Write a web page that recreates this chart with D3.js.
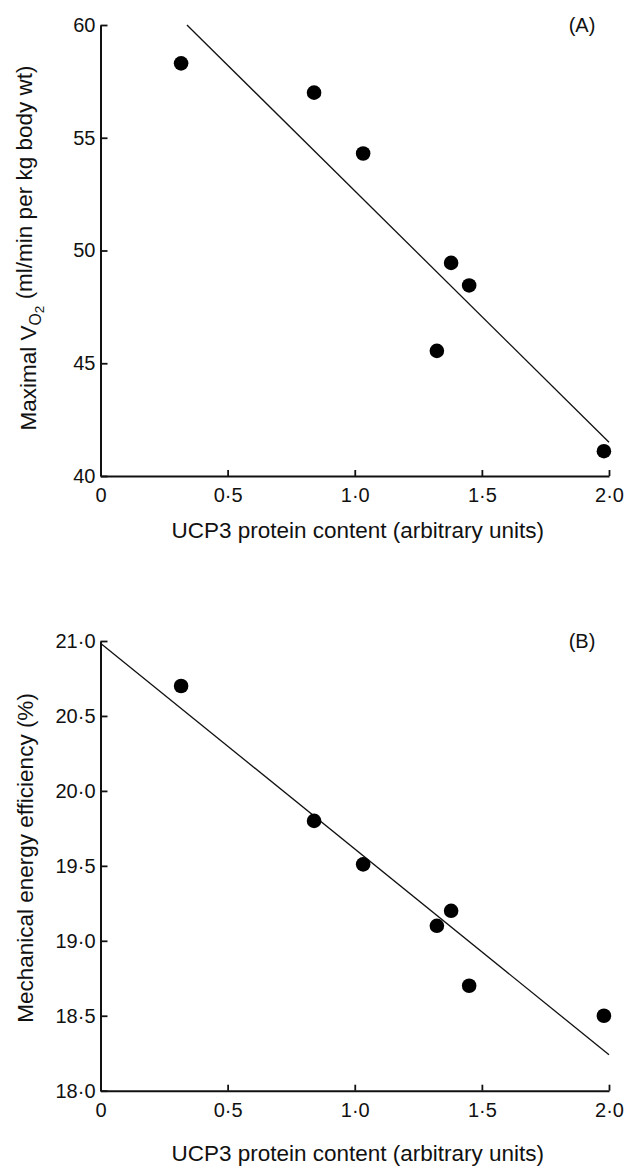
<!DOCTYPE html>
<html>
<head>
<meta charset="utf-8">
<script src="https://cdn.jsdelivr.net/npm/d3@7"></script>
<style>
  body { margin: 0; background: #fff; }
  text { font-family: "Liberation Sans", Arial, Helvetica, sans-serif; fill: #111; }
</style>
</head>
<body>
<script>
// data (same 7 subjects in both panels)
var ucp3 = [0.317, 0.84, 1.033, 1.379, 1.45, 1.323, 1.98];
var vo2max = [58.3, 57.0, 54.3, 49.45, 48.45, 45.55, 41.1];
var efficiency = [20.7, 19.8, 19.51, 19.2, 18.7, 19.1, 18.5];

// regression lines as drawn (end points)
var fitA_x = [0.34, 2.0], fitA_y = [60.0, 41.5];
var fitB_x = [0, 2.0], fitB_y = [20.985, 18.24];

// ticks
var xTicks = [0, 0.5, 1, 1.5, 2];
var xTickLabels = ["0", "0·5", "1·0", "1·5", "2·0"];
var yTicksA = [40, 45, 50, 55, 60];
var yTickLabelsA = ["40", "45", "50", "55", "60"];
var yTicksB = [18, 18.5, 19, 19.5, 20, 20.5, 21];
var yTickLabelsB = ["18·0", "18·5", "19·0", "19·5", "20·0", "20·5", "21·0"];

var width = 626, height = 1167;

var svg = d3.select("body").append("svg")
    .attr("width", width)
    .attr("height", height);

var x = d3.scaleLinear().domain([0, 2]).range([100.5, 609]);

function drawPanel(cfg) {
    var y = cfg.y;
    var g = svg.append("g");

    // x axis
    var xa = g.append("g")
        .attr("transform", "translate(0," + y.range()[0] + ")")
        .call(d3.axisBottom(x)
            .tickValues(xTicks)
            .tickFormat(function(d, i) { return xTickLabels[i]; })
            .tickSizeInner(-6)
            .tickSizeOuter(0)
            .tickPadding(12));

    // y axis
    var ya = g.append("g")
        .attr("transform", "translate(" + x.range()[0] + ",0)")
        .call(d3.axisLeft(y)
            .tickValues(cfg.yTicks)
            .tickFormat(function(d, i) { return cfg.yLabels[i]; })
            .tickSizeInner(-7)
            .tickSizeOuter(0)
            .tickPadding(5));

    [xa, ya].forEach(function(a) {
        a.attr("font-size", 20).attr("font-family", null);
        a.select(".domain").attr("stroke", "#111").attr("stroke-width", 2);
        a.selectAll(".tick line").attr("stroke", "#111").attr("stroke-width", 1.8);
        a.selectAll(".tick text").attr("fill", "#111");
    });

    // fit line
    var line = d3.line()
        .x(function(d) { return x(d[0]); })
        .y(function(d) { return y(d[1]); });
    g.append("path")
        .datum(d3.zip(cfg.fitX, cfg.fitY))
        .attr("d", line)
        .attr("fill", "none")
        .attr("stroke", "#111")
        .attr("stroke-width", 1.3);

    // points
    g.selectAll(".dot")
        .data(d3.zip(ucp3, cfg.values))
        .enter().append("circle")
        .attr("class", "dot")
        .attr("cx", function(d) { return x(d[0]); })
        .attr("cy", function(d) { return y(d[1]); })
        .attr("r", 7.3)
        .attr("fill", "#000");

    // x label
    g.append("text")
        .attr("x", (x.range()[0] + x.range()[1]) / 2 + 3)
        .attr("y", cfg.xLabelY)
        .attr("text-anchor", "middle")
        .attr("font-size", 22.5)
        .text("UCP3 protein content (arbitrary units)");

    // panel tag
    g.append("text")
        .attr("x", 582)
        .attr("y", y.range()[1] + 7)
        .attr("text-anchor", "middle")
        .attr("font-size", 20)
        .text(cfg.tag);

    return g;
}

var yA = d3.scaleLinear().domain([40, 60]).range([476, 25]);
var gA = drawPanel({
    y: yA, yTicks: yTicksA, yLabels: yTickLabelsA,
    values: vo2max, fitX: fitA_x, fitY: fitA_y,
    xLabelY: 538, tag: "(A)"
});

var labA = gA.append("text")
    .attr("transform", "translate(36,248) rotate(-90)")
    .attr("text-anchor", "middle")
    .attr("font-size", 22.5);
labA.append("tspan").text("Maximal V");
labA.append("tspan").attr("dy", "0.3em").attr("font-size", "70%").text("O");
labA.append("tspan").attr("dy", "0.25em").attr("font-size", "60%").text("2");
labA.append("tspan").attr("dy", "-0.55em").text(" (ml/min per kg body wt)");

var yB = d3.scaleLinear().domain([18, 21]).range([1090.7, 641]);
var gB = drawPanel({
    y: yB, yTicks: yTicksB, yLabels: yTickLabelsB,
    values: efficiency, fitX: fitB_x, fitY: fitB_y,
    xLabelY: 1161, tag: "(B)"
});

gB.append("text")
    .attr("transform", "translate(33,858) rotate(-90)")
    .attr("text-anchor", "middle")
    .attr("font-size", 22.5)
    .text("Mechanical energy efficiency (%)");
</script>
</body>
</html>
